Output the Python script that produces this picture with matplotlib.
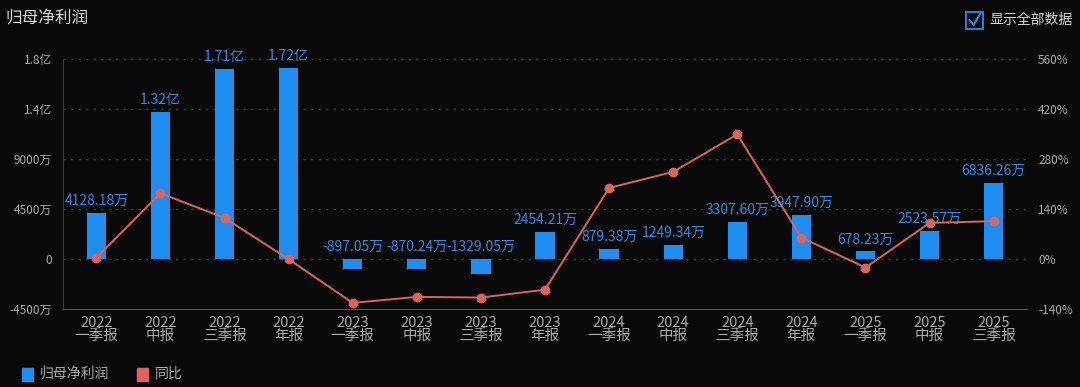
import numpy as np
import matplotlib.pyplot as plt
from matplotlib.patches import Rectangle

plt.rcParams['font.family'] = ['Noto Sans CJK SC', 'DejaVu Sans']

# data (profit in 万元, yoy in %)
years = ['2022', '2022', '2022', '2022', '2023', '2023', '2023', '2023',
         '2024', '2024', '2024', '2024', '2025', '2025', '2025']
periods = ['一季报', '中报', '三季报', '年报', '一季报', '中报', '三季报', '年报',
           '一季报', '中报', '三季报', '年报', '一季报', '中报', '三季报']
profit = [4128.18, 13200, 17100, 17200, -897.05, -870.24, -1329.05, 2454.21,
          879.38, 1249.34, 3307.60, 3947.90, 678.23, 2523.57, 6836.26]
profit_labels = ['4128.18万', '1.32亿', '1.71亿', '1.72亿', '-897.05万', '-870.24万',
                 '-1329.05万', '2454.21万', '879.38万', '1249.34万', '3307.60万',
                 '3947.90万', '678.23万', '2523.57万', '6836.26万']
yoy = [3.6, 184, 115, -0.6, -123, -106, -108, -86, 199, 244, 349, 60, -24, 101, 106]

left_ticks = [-4500, 0, 4500, 9000, 13500, 18000]
left_ticklabels = ['-4500万', '0', '4500万', '9000万', '1.4亿', '1.8亿']
right_ticks = [-140, 0, 140, 280, 420, 560]

bg = '#090909'
blue = '#1e8ff0'
red = '#e0625c'
grey = '#ababab'

fig = plt.figure(figsize=(10.8, 3.87), dpi=100, facecolor=bg)
ax = fig.add_axes([63 / 1080, 1 - 309 / 387, (1027 - 63) / 1080, 250 / 387])
ax.set_facecolor(bg)
ax2 = ax.twinx()

x = np.arange(len(profit))
ax.bar(x, profit, width=0.3, color=blue, zorder=2)
for xi, v, lab in zip(x, profit, profit_labels):
    ax.text(xi, max(v, 0) + 450, lab, ha='center', va='bottom',
            color='#2a8ee6', fontsize=10, zorder=5)

ax.set_ylim(-4500, 18000)
ax.set_xlim(-0.52, len(profit) - 0.48)
ax.set_yticks(left_ticks)
ax.set_yticklabels(left_ticklabels)
ax.set_xticks(x)
ax.set_xticklabels([f'{y}\n{p}' for y, p in zip(years, periods)], linespacing=0.95)
for t in left_ticks:
    if t > -4500:
        ax.axhline(t, color='#3a3a3a', lw=0.9, ls=(0, (2, 4)), zorder=1)

ax.tick_params(axis='y', length=0, colors=grey, labelsize=8.5, pad=8)
ax.tick_params(axis='x', length=0, colors=grey, labelsize=10.5, pad=5)
for s in ['top', 'right']:
    ax.spines[s].set_visible(False)
ax.spines['left'].set_color('#2e3a46')
ax.spines['bottom'].set_color('#4a5a6a')

ax2.plot(x, yoy, color=red, lw=1.4, marker='o', markersize=6, zorder=4)
ax2.set_ylim(-140, 560)
ax2.set_yticks(right_ticks)
ax2.set_yticklabels([f'{t}%' for t in right_ticks])
ax2.tick_params(axis='y', length=0, colors=grey, labelsize=8.5, pad=8)
for s in ['top', 'right', 'left', 'bottom']:
    ax2.spines[s].set_visible(False)

# title
fig.text(5 / 1080, 1 - 18 / 387, '归母净利润', color='#d8d8d8', fontsize=12, va='center')

# checkbox
fig.patches.append(Rectangle((966 / 1080, 1 - 29 / 387), 17 / 1080, 17 / 387,
                             transform=fig.transFigure, fill=False,
                             edgecolor='#2a8ee6', lw=1.3))
fig.lines.append(plt.Line2D([969.5 / 1080, 973.5 / 1080, 980 / 1080],
                            [1 - 20 / 387, 1 - 25 / 387, 1 - 14 / 387],
                            transform=fig.transFigure, color='#2a8ee6', lw=1.5))
fig.text(989 / 1080, 1 - 20 / 387, '显示全部数据', color='#d8d8d8', fontsize=10, va='center')

# legend
fig.patches.append(Rectangle((22 / 1080, 1 - 381 / 387), 11 / 1080, 13 / 387,
                             transform=fig.transFigure, color=blue))
fig.text(40 / 1080, 1 - 374 / 387, '归母净利润', color=grey, fontsize=10, va='center')
fig.patches.append(Rectangle((137 / 1080, 1 - 381 / 387), 11 / 1080, 13 / 387,
                             transform=fig.transFigure, color=red))
fig.text(155 / 1080, 1 - 374 / 387, '同比', color=grey, fontsize=10, va='center')

fig.savefig('out.png', dpi=100, facecolor=bg)
